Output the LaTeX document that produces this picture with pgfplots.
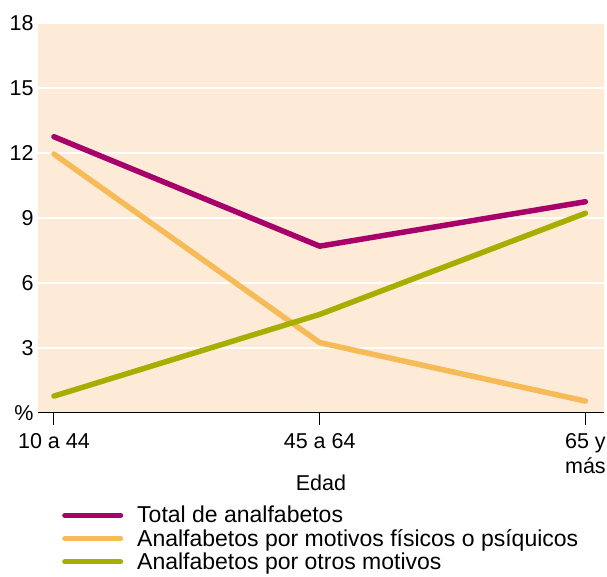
\documentclass[border=0pt]{standalone}
\usepackage{fontspec}
\setmainfont{Liberation Sans}
\usepackage{pgfplots}
\pgfplotsset{compat=1.18}

\definecolor{bgpeach}{HTML}{FDEBD7}
\definecolor{total}{HTML}{A8006B}
\definecolor{fisico}{HTML}{F6BA57}
\definecolor{otros}{HTML}{A6AF00}

\begin{document}
\begin{tikzpicture}
\useasboundingbox (-38pt,-164pt) rectangle (569pt,413pt);
\begin{axis}[%
at={(0pt,0pt)},anchor=south west,%
width=566pt,height=390pt,%
scale only axis,%
font=\fontsize{21.5}{25}\selectfont,%
xmin=-0.06,xmax=2.07,%
ymin=0,ymax=18,%
xtick={0,1,2},%
xticklabels={10 a 44,45 a 64,65 y\\más},%
xticklabel style={align=center,yshift=-5pt},%
ytick={0,3,6,9,12,15,18},%
yticklabels={\%,3,6,9,12,15,18},%
yticklabel style={xshift=11pt},%
/pgf/number format/assume math mode=true,%
ymajorgrids,%
grid style={white,line width=1.3pt},%
axis background/.style={fill=bgpeach},%
separate axis lines,%
axis x line*=bottom,%
axis y line*=left,%
x axis line style={black,line width=1pt,-},%
y axis line style={draw=none},%
xtick style={black,line width=1pt},%
ytick style={draw=none},%
tick align=outside,%
major tick length=12pt,%
xlabel={Edad},%
xlabel style={yshift=6pt},%
legend style={draw=none,fill=none,at={(24pt,-91pt)},anchor=north west,%
  font=\fontsize{23}{26}\selectfont,row sep=1pt,inner sep=0pt,%
  nodes={inner sep=2pt}},%
legend cell align=left,%
legend image code/.code={\draw[#1,line width=5pt] (0pt,0pt) -- (56pt,0pt);},%
]

\addplot [color=total,line width=5.5pt,line cap=round,line join=round] coordinates{
 (0,12.75) (1,7.7) (2,9.75)
};
\addlegendentry{\hspace{12pt}Total de analfabetos}

\addplot [color=fisico,line width=5.5pt,line cap=round,line join=round] coordinates{
 (0,11.95) (1,3.25) (2,0.55)
};
\addlegendentry{\hspace{12pt}Analfabetos por motivos físicos o psíquicos}

\addplot [color=otros,line width=5.5pt,line cap=round,line join=round] coordinates{
 (0,0.78) (1,4.55) (2,9.22)
};
\addlegendentry{\hspace{12pt}Analfabetos por otros motivos}

\end{axis}
\end{tikzpicture}
\end{document}
